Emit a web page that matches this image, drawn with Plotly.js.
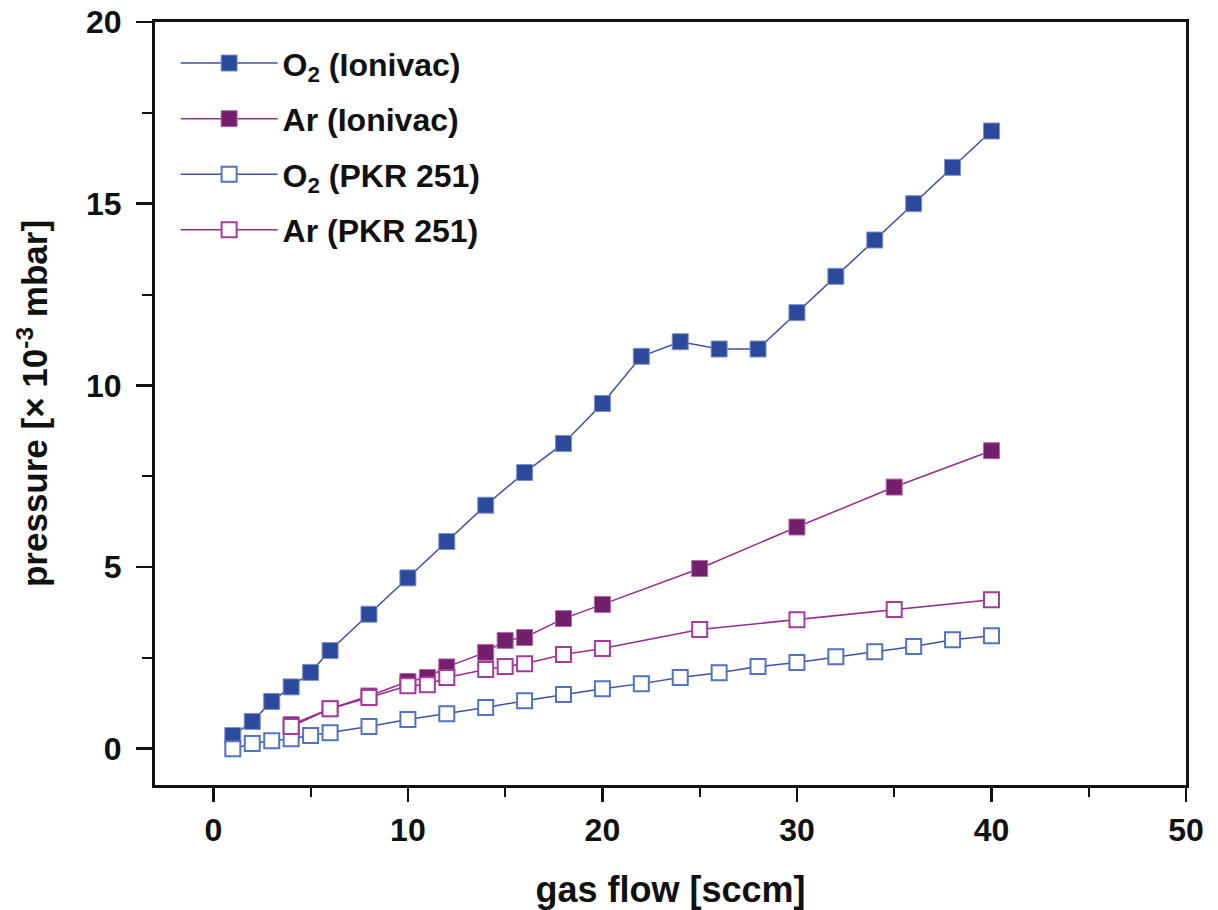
<!DOCTYPE html>
<html><head><meta charset="utf-8">
<script src="https://cdn.plot.ly/plotly-3.0.1.min.js"></script>
<style>html,body{margin:0;padding:0;background:#fff}#chart{width:1218px;height:910px}</style>
</head><body><div id="chart"></div>
<script>
const o2IonX = [1,2,3,4,5,6,8,10,12,14,16,18,20,22,24,26,28,30,32,34,36,38,40];
const o2IonY = [0.36,0.75,1.3,1.7,2.1,2.7,3.7,4.7,5.7,6.7,7.6,8.4,9.5,10.8,11.2,11.0,11.0,12.0,13.0,14.0,15.0,16.0,17.0];
const arIonX = [4,6,8,10,11,12,14,15,16,18,20,25,30,35,40];
const arIonY = [0.66,1.1,1.45,1.85,1.96,2.25,2.65,2.98,3.06,3.58,3.97,4.96,6.1,7.2,8.2];
const o2PkrX = [1,2,3,4,5,6,8,10,12,14,16,18,20,22,24,26,28,30,32,34,36,38,40];
const o2PkrY = [0.0,0.14,0.22,0.27,0.36,0.44,0.61,0.8,0.96,1.13,1.32,1.49,1.65,1.79,1.96,2.09,2.26,2.37,2.53,2.67,2.81,3.0,3.11];
const arPkrX = [4,6,8,10,11,12,14,15,16,18,20,25,30,35,40];
const arPkrY = [0.61,1.1,1.41,1.73,1.76,1.96,2.18,2.26,2.34,2.59,2.76,3.28,3.55,3.83,4.1];
const names = ['O<sub>2</sub> (Ionivac)','Ar (Ionivac)','O<sub>2</sub> (PKR 251)','Ar (PKR 251)'];
const xTicks = [0,10,20,30,40,50];
const yTicks = [0,5,10,15,20];

const blue='#2B4A9B', blueLine='#3F4FA8', blueEdge='#7D8FCB';
const purple='#741F6C', purpleLine='#9A2B8F', purpleEdge='#B06BA8';
const openBlue='#5272C4', openPurple='#A8399E';

const traces = [
 {x:o2IonX,y:o2IonY,name:names[0],legendgroup:'a',mode:'lines+markers',line:{color:blueLine,width:1.5},
  marker:{symbol:'square',size:16,color:blue,line:{color:blueEdge,width:1}}},
 {x:arIonX,y:arIonY,name:names[1],legendgroup:'b',mode:'lines+markers',line:{color:purpleLine,width:1.5},
  marker:{symbol:'square',size:16,color:purple,line:{color:purpleEdge,width:1}}},
 {x:o2PkrX,y:o2PkrY,name:names[2],legendgroup:'c',mode:'lines+markers',line:{color:blueLine,width:1.5},
  marker:{symbol:'square',size:15,color:'#ffffff',line:{color:openBlue,width:2}}},
 {x:arPkrX,y:arPkrY,name:names[3],legendgroup:'d',mode:'lines+markers',line:{color:purpleLine,width:1.5},
  marker:{symbol:'square',size:15,color:'#ffffff',line:{color:openPurple,width:2}}}
];

const F='Liberation Sans, Arial, sans-serif';
const layout = {
 width:1218,height:910,
 margin:{l:155,r:32,t:22,b:125},
 paper_bgcolor:'#fff',plot_bgcolor:'#fff',
 font:{family:F,color:'#111'},
 showlegend:true,
 legend:{x:0.02,y:0.982,xanchor:'left',yanchor:'top',bgcolor:'rgba(0,0,0,0)',
   font:{size:32,family:F,weight:'bold',color:'#111'},
   itemwidth:97,tracegroupgap:11,traceorder:'grouped'},
 xaxis:{range:[-3,50],tickvals:xTicks,ticks:'outside',ticklen:14,tickwidth:2.5,tickcolor:'#111',
   showline:true,linewidth:3,linecolor:'#111',mirror:true,showgrid:false,zeroline:false,
   minor:{tickvals:[5,15,25,35,45],ticks:'outside',ticklen:9,tickwidth:2,tickcolor:'#111'},
   tickfont:{size:32,weight:'bold',color:'#111'},ticklabelstandoff:1,
   title:{text:'gas flow [sccm]',font:{size:36,weight:'bold',color:'#111'},standoff:34}},
 yaxis:{range:[-1,20],tickvals:yTicks,ticks:'outside',ticklen:16,tickwidth:2.5,tickcolor:'#111',
   showline:true,linewidth:3,linecolor:'#111',mirror:true,showgrid:false,zeroline:false,
   minor:{tickvals:[2.5,7.5,12.5,17.5],ticks:'outside',ticklen:10,tickwidth:2,tickcolor:'#111'},
   tickfont:{size:32,weight:'bold',color:'#111'},ticklabelstandoff:8,
   title:{text:'pressure [× 10<sup>-3</sup> mbar]',font:{size:35,weight:'bold',color:'#111'},standoff:28}}
};
Plotly.newPlot('chart',traces,layout,{displayModeBar:false,staticPlot:true});
</script></body></html>
